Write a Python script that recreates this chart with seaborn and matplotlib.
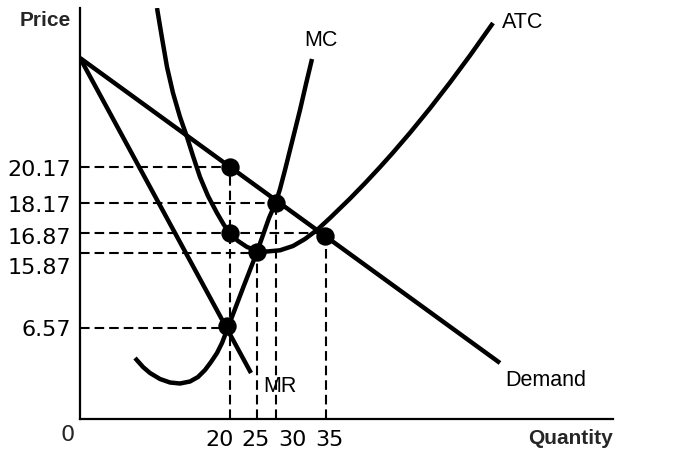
import matplotlib
matplotlib.use("Agg")
import matplotlib.pyplot as plt
import seaborn as sns

# ---- data (diagram units; the sketch is not drawn to scale) ----
demand_q = [0, 420]
demand_p = [360.5, 55.5]

mr_q = [0, 171]
mr_p = [360.5, 45.5]

mc_q = [55, 63, 70, 80, 90, 100, 110, 118, 125, 131, 137, 142, 147, 155, 163, 170,
        177, 183, 189, 196, 200, 205, 210, 215, 220, 226, 232]
mc_p = [60.5, 51.5, 45.5, 39.5, 36, 35, 37, 41.5, 48.5, 56.5, 65.5, 75.5, 88.5, 109.5,
        130.5, 148.5, 166.5, 183.5, 200.5, 216.5, 229.5, 248.5, 268.5, 288.5, 308.5,
        334.5, 359.5]

atc_q = [77, 82, 87, 93, 100, 107, 113, 120, 128, 137, 144, 150, 158, 167, 177, 187,
         200, 213, 225, 237, 250, 270, 285, 300, 313, 330, 350, 370, 390, 413]
atc_p = [410.5, 380.5, 351.5, 325.5, 301.5, 281.5, 262.5, 241.5, 222.5, 205.5, 193.5,
         185.5, 177.5, 171.5, 168, 167, 168.2, 172.5, 179.5, 188.5, 200.5, 219.9,
         235.3, 251.4, 265.9, 285.7, 310.2, 336, 363, 395.5]

# points of interest (dots)
dot_q = [150, 196, 150, 245, 177, 147]
dot_p = [251.8, 216, 185.5, 182.5, 166.5, 92.5]

# guide (dashed) levels: horizontal level, and how far it extends
guide_h_p = [251.8, 216, 185.5, 165.8, 90.5]
guide_h_q = [150, 196, 245, 177, 147]
guide_v_q = [150, 177, 196, 245.5]
guide_v_p = [251.8, 166.5, 216, 185.5]

# tick labels and their positions
price_labels = ["20.17", "18.17", "16.87", "15.87", "6.57"]
price_label_pos = [251, 215, 182.5, 152.5, 90.5]
qty_labels = ["20", "25", "30", "35"]
qty_label_pos = [139.5, 176, 212, 249]

curve_labels = ["MC", "ATC", "MR", "Demand"]
curve_label_q = [241, 443, 200, 466]
curve_label_p = [377.5, 396.5, 32.5, 38.5]

# ---- figure ----
sns.set_theme(style="white")
plt.rcParams["font.family"] = ["DejaVu Sans"]

fig = plt.figure(figsize=(6.76, 4.70), dpi=100)
ax = fig.add_axes([80 / 676, (470 - 418.5) / 470, 533 / 676, 410.5 / 470])
ax.set_xlim(0, 533)
ax.set_ylim(0, 410.5)

curve_kw = dict(color="black", linewidth=3.2, solid_capstyle="butt", sort=False,
                estimator=None, legend=False)
dash_kw = dict(color="black", linewidth=1.5, linestyle=(0, (4.6, 2.4)), zorder=2)

# dashed guides
for p, q in zip(guide_h_p, guide_h_q):
    ax.plot([0, q], [p, p], **dash_kw)
for q, p in zip(guide_v_q, guide_v_p):
    ax.plot([q, q], [0, p], **dash_kw)

# curves
sns.lineplot(x=demand_q, y=demand_p, ax=ax, zorder=3, **curve_kw)
sns.lineplot(x=mr_q, y=mr_p, ax=ax, zorder=3, **curve_kw)
sns.lineplot(x=mc_q, y=mc_p, ax=ax, zorder=3, **curve_kw)
sns.lineplot(x=atc_q, y=atc_p, ax=ax, zorder=3, **curve_kw)

# dots
sns.scatterplot(x=dot_q, y=dot_p, ax=ax, color="black", s=175, linewidth=0, zorder=4,
                legend=False)

# curve labels
for t, q, p in zip(curve_labels, curve_label_q, curve_label_p):
    ax.text(q, p, t, fontsize=15.5, family="Liberation Sans", ha="center", va="center",
            color="black")

# axes styling
for s in ["top", "right"]:
    ax.spines[s].set_visible(False)
for s in ["left", "bottom"]:
    ax.spines[s].set_linewidth(1.6)
    ax.spines[s].set_color("black")

ax.set_yticks(price_label_pos, price_labels)
ax.set_xticks(qty_label_pos, qty_labels)
ax.tick_params(axis="both", length=0, labelsize=16, colors="black")
ax.tick_params(axis="y", pad=6.5)
ax.tick_params(axis="x", pad=8.5)
ax.grid(False)

ax.text(-12, -16.5, "0", fontsize=16, ha="center", va="center", clip_on=False)
ax.text(-9, 398.5, "Price", fontsize=15, fontweight="bold", family="Liberation Sans",
        ha="right", va="center", clip_on=False)
ax.text(533, -26, "Quantity", fontsize=15, fontweight="bold", family="Liberation Sans",
        ha="right", va="baseline", clip_on=False)

fig.savefig("out.png", dpi=100)
